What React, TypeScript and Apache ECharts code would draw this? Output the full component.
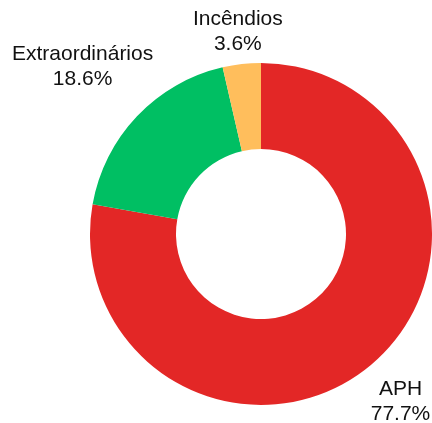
import React, { useEffect, useRef } from "react";
import * as echarts from "echarts";

const categories = ["APH", "Extraordinários", "Incêndios"];
const values = [77.7, 18.6, 3.6];
const colors = ["#E32726", "#00BF63", "#FFBE5C"];
const labelDistances = [217, 246, 205];

const CX = 261;
const CY = 234;

export default function App() {
  const ref = useRef<HTMLDivElement>(null);
  useEffect(() => {
    if (!ref.current) return;
    const chart = echarts.init(ref.current, null, { renderer: "svg" });
    const total = values.reduce((a, b) => a + b, 0);
    const midAngles: number[] = [];
    let acc = 0;
    values.forEach((v) => {
      midAngles.push(((acc + v / 2) / total) * Math.PI * 2);
      acc += v;
    });
    chart.setOption({
      animation: false,
      series: [
        {
          type: "pie",
          center: [CX, CY],
          radius: [85, 171],
          startAngle: 90,
          clockwise: true,
          avoidLabelOverlap: false,
          silent: true,
          data: categories.map((name, i) => ({
            name,
            value: values[i],
            itemStyle: { color: colors[i] },
          })),
          label: {
            show: true,
            position: "outside",
            formatter: "{b}\n{c}%",
            fontFamily: "'Liberation Sans', Arial, sans-serif",
            fontSize: 21,
            lineHeight: 25,
            color: "#111",
          },
          labelLine: { show: false },
          labelLayout: (params: any) => {
            const i = params.dataIndex;
            const a = midAngles[i];
            const d = labelDistances[i];
            return {
              x: CX + d * Math.sin(a),
              y: CY - d * Math.cos(a),
              align: "center",
              verticalAlign: "middle",
            };
          },
        },
      ],
    });
    return () => chart.dispose();
  }, []);
  return (
    <div
      ref={ref}
      style={{ position: "fixed", left: 0, top: 0, width: 432, height: 423 }}
    />
  );
}
